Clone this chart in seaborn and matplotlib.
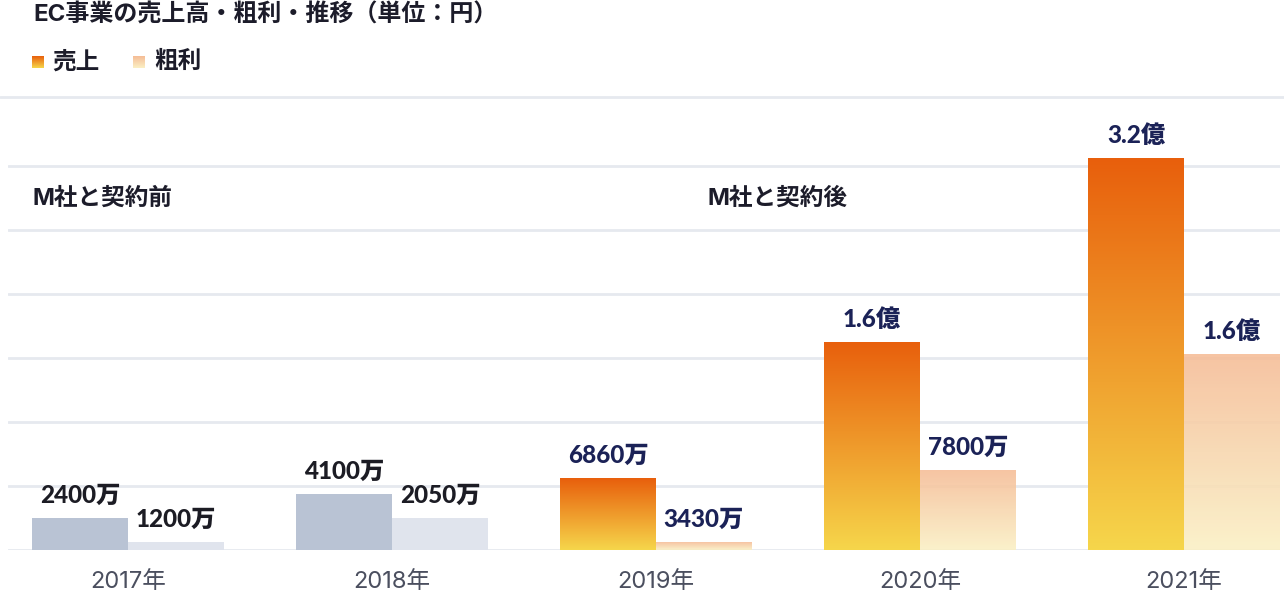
import matplotlib
matplotlib.use('Agg')
import matplotlib.pyplot as plt
import matplotlib.colors as mcolors
import numpy as np
import pandas as pd
import seaborn as sns

# 値（棒の高さは画像から読み取り、単位: 万円）
years = ['2017年', '2018年', '2019年', '2020年', '2021年']
sales = [2500, 4400, 5600, 16250, 30600]
profit = [620, 2500, 620, 6250, 15300]
sales_labels = ['2400万', '4100万', '6860万', '1.6億', '3.2億']
profit_labels = ['1200万', '2050万', '3430万', '7800万', '1.6億']
after_contract = [False, False, True, True, True]
grid_ticks = [0, 5000, 10000, 15000, 20000, 25000, 30000]

W, H = 1284, 600


def fx(px):
    return px / W


def fy(py):
    return 1 - py / H


def gradient(top, bottom, n=256):
    c = np.linspace(0, 1, n)[:, None]
    t = np.array(mcolors.to_rgb(top))
    b = np.array(mcolors.to_rgb(bottom))
    return (t * (1 - c) + b * c)[:, None, :]


def gradient_fill(ax, patch, top, bottom, alpha=1.0):
    x0, y0 = patch.get_x(), patch.get_y()
    w, h = patch.get_width(), patch.get_height()
    im = ax.imshow(gradient(top, bottom), extent=(x0, x0 + w, y0, y0 + h),
                   aspect='auto', origin='upper', alpha=alpha, zorder=patch.get_zorder(),
                   interpolation='bilinear')
    im.set_clip_path(patch)
    patch.set_facecolor('none')


SALES_TOP, SALES_BOT = '#e85f0c', '#f6d64b'
PROF_TOP, PROF_BOT = '#f5bc96', '#fbf0c4'
GREY_SALES, GREY_PROF = '#b9c3d4', '#e0e4ed'

df = pd.DataFrame({
    'year': years * 2,
    'series': ['売上'] * len(years) + ['粗利'] * len(years),
    'value': sales + profit,
})

sns.set_theme(style='white')
plt.rcParams['font.family'] = ['Inter', 'Noto Sans CJK JP', 'DejaVu Sans']

fig = plt.figure(figsize=(W / 100, H / 100), dpi=100)
ax = fig.add_axes([fx(8), fy(550), fx(1280) - fx(8), fy(97) - fy(550)])

sns.barplot(data=df, x='year', y='value', hue='series', palette=[GREY_SALES, GREY_PROF],
            width=0.727, saturation=1, legend=False, linewidth=0, ax=ax)

ymax = 35390
xlim = (-0.4545, 4.3636)

for i, patch in enumerate(ax.containers[0]):
    if after_contract[i]:
        gradient_fill(ax, patch, SALES_TOP, SALES_BOT)
for i, patch in enumerate(ax.containers[1]):
    if after_contract[i]:
        gradient_fill(ax, patch, PROF_TOP, PROF_BOT, alpha=0.88)

# 値ラベル
for cont, labels in [(ax.containers[0], sales_labels), (ax.containers[1], profit_labels)]:
    for i, (patch, lab) in enumerate(zip(cont, labels)):
        color = '#1b2257' if after_contract[i] else '#1c1c24'
        ax.annotate(lab, (patch.get_x() + patch.get_width() / 2, patch.get_height()),
                    xytext=(0, 11), textcoords='offset points', ha='center', va='baseline',
                    fontsize=17.5, fontweight='black', color=color,
                    family=['Lato', 'Noto Sans CJK JP'], annotation_clip=False)

ax.set_xlim(*xlim)
ax.set_ylim(0, ymax)
ax.set_yticks(grid_ticks)
ax.set_yticklabels([])
ax.grid(axis='y', color='#e6e9ef', linewidth=2)
ax.grid(axis='x', visible=False)
ax.set_axisbelow(True)
for s in ax.spines.values():
    s.set_visible(False)
ax.tick_params(axis='x', length=0, pad=15, labelsize=17, labelcolor='#4b4f5f')
ax.tick_params(axis='y', length=0)
ax.set_xlabel('')
ax.set_ylabel('')

# 上部の区切り線
fig.add_artist(plt.Line2D([0, 1], [fy(97), fy(97)], color='#e6e9ef', linewidth=2,
                          transform=fig.transFigure))

# タイトル・凡例
fig.text(fx(33), fy(15), 'EC事業の売上高・粗利・推移（単位：円）', fontsize=17.3,
         fontweight='bold', color='#1c1c2a', va='center')

for x0, top, bot, name, tx in [(32, SALES_TOP, SALES_BOT, '売上', 52),
                                (133, PROF_TOP, PROF_BOT, '粗利', 154)]:
    lax = fig.add_axes([fx(x0), fy(68), 12 / W, 12 / H])
    lax.imshow(gradient(top, bot), aspect='auto')
    lax.axis('off')
    fig.text(fx(tx), fy(62), name, fontsize=17, fontweight='bold', color='#1c1c2a', va='center')

fig.text(fx(33), fy(199), 'M社と契約前', fontsize=17, fontweight='bold', color='#1c1c2a', va='center')
fig.text(fx(708), fy(199), 'M社と契約後', fontsize=17, fontweight='bold', color='#1c1c2a', va='center')

fig.savefig('out.png', dpi=100)
